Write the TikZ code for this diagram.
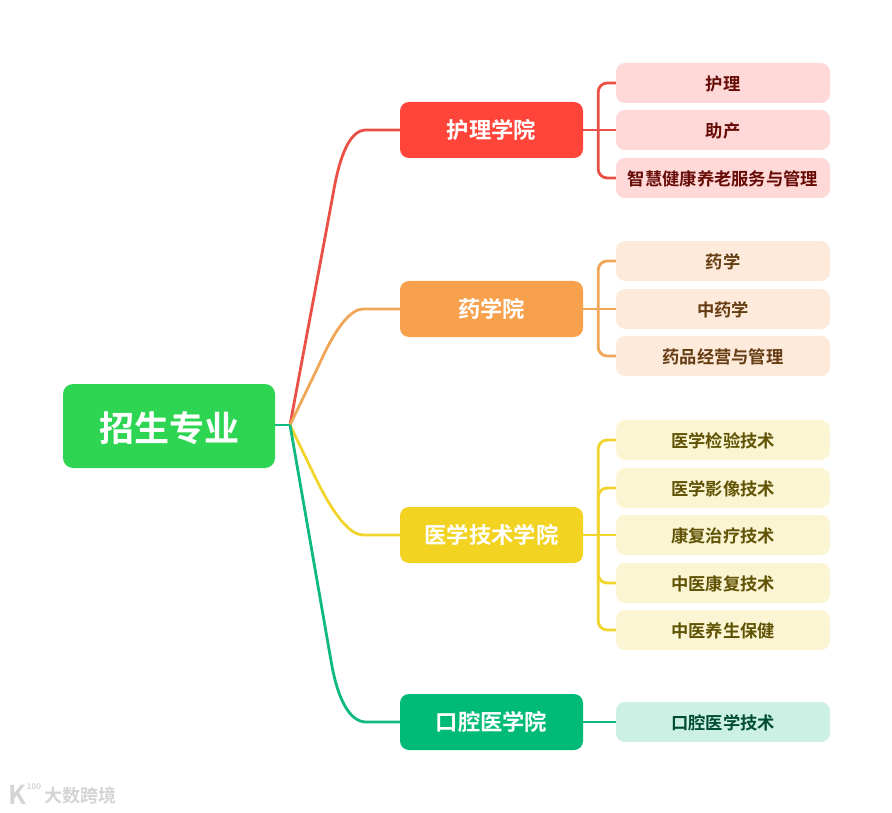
\documentclass[tikz,border=0pt]{standalone}
\usepackage{fontspec}
\usepackage{xcolor}
\usetikzlibrary{calc}
\setmainfont{Noto Sans CJK SC}[BoldFont={* Bold}]
\definecolor{rootcolor}{HTML}{2ED553}
\definecolor{redcolor}{HTML}{FF4539}
\definecolor{orangecolor}{HTML}{F7A14D}
\definecolor{yellowcolor}{HTML}{F2D321}
\definecolor{greencolor}{HTML}{00BB78}
\definecolor{redlink}{HTML}{EA5045}
\definecolor{orangelink}{HTML}{F0A657}
\definecolor{yellowlink}{HTML}{F2D42E}
\definecolor{greenlink}{HTML}{10B981}
\definecolor{redwash}{HTML}{FFD9D7}
\definecolor{orangewash}{HTML}{FDEADB}
\definecolor{yellowwash}{HTML}{FCF5D3}
\definecolor{greenwash}{HTML}{CCF1E4}
\definecolor{redtext}{HTML}{660A05}
\definecolor{orangetext}{HTML}{663D12}
\definecolor{yellowtext}{HTML}{615305}
\definecolor{greentext}{HTML}{004D32}
\definecolor{markcolor}{HTML}{D4D4D4}
\tikzstyle{rootbox} = [
    fill=rootcolor,
    text=white,
    rounded corners=10pt,
    minimum width=212pt,
    minimum height=84pt,
    text height=34pt,
    text depth=3.4pt,
    font=\fontsize{35}{35}\selectfont\bfseries
    ]
\tikzstyle{collegebox} = [
    text=white,
    rounded corners=9pt,
    minimum width=183pt,
    minimum height=56pt,
    font=\fontsize{22.3}{22.3}\selectfont\bfseries
    ]
\tikzstyle{majorbox} = [
    rounded corners=9pt,
    minimum width=214pt,
    minimum height=40pt,
    text height=17.3pt,
    text depth=2pt,
    font=\fontsize{17.3}{17.3}\selectfont\bfseries
    ]
\tikzstyle{link} = [
    line width=2.8pt,
    rounded corners=9pt
    ]
\tikzstyle{markfont} = [
    text=markcolor,
    inner sep=0pt
    ]

\begin{document}
\begin{tikzpicture}[x=1pt,y=-1pt]
\useasboundingbox (0,0) rectangle (892,813);
\node [rootbox] (root) at (169,426) {招生专业};
\coordinate (hub) at (290,425);

\node [collegebox, fill=redcolor] (nursing) at (491.5,130) {护理学院};
\node [collegebox, fill=orangecolor] (pharmacy) at (491.5,309) {药学院};
\node [collegebox, fill=yellowcolor] (medtech) at (491.5,535) {医学技术学院};
\node [collegebox, fill=greencolor] (dental) at (491.5,722) {口腔医学院};

\foreach \name/\ypos/\label in {nurseA/83/护理, nurseB/130/助产, nurseC/178/智慧健康养老服务与管理}
    \node [majorbox, fill=redwash, text=redtext] (\name) at (723,\ypos) {\label};
\foreach \name/\ypos/\label in {pharmA/261/药学, pharmB/309/中药学, pharmC/356/药品经营与管理}
    \node [majorbox, fill=orangewash, text=orangetext] (\name) at (723,\ypos) {\label};
\foreach \name/\ypos/\label in {techA/440/医学检验技术, techB/488/医学影像技术, techC/535/康复治疗技术, techD/583/中医康复技术, techE/630/中医养生保健}
    \node [majorbox, fill=yellowwash, text=yellowtext] (\name) at (723,\ypos) {\label};
\node [majorbox, fill=greenwash, text=greentext] (dentalA) at (723,722) {口腔医学技术};

% trunk curves
\draw [link, redlink] (hub) -- (332,200) .. controls (340,155) and (350,130) .. (375,130) -- (nursing.west);
\draw [link, orangelink] (hub) -- (318,367) .. controls (335,330) and (350,309) .. (372,309) -- (pharmacy.west);
\draw [link, yellowlink] (hub) -- (318,483) .. controls (335,515) and (350,535) .. (372,535) -- (medtech.west);
\draw [link, greenlink] (hub) -- (330,655) .. controls (338,700) and (350,722) .. (375,722) -- (dental.west);
\draw [link, greenlink, rounded corners=0pt] (root.east |- hub) -- (hub);

% brackets
\coordinate (nursefork) at ($(nursing.east)+(15,0)$);
\coordinate (pharmfork) at ($(pharmacy.east)+(15,0)$);
\coordinate (techfork) at ($(medtech.east)+(15,0)$);
\draw [link, redlink] (nursing.east) -- (nurseB.west);
\foreach \kid in {nurseA, nurseC}
    \draw [link, redlink] (nursefork) |- (\kid.west);
\draw [link, orangelink] (pharmacy.east) -- (pharmB.west);
\foreach \kid in {pharmA, pharmC}
    \draw [link, orangelink] (pharmfork) |- (\kid.west);
\draw [link, yellowlink] (medtech.east) -- (techC.west);
\foreach \kid in {techA, techB, techD, techE}
    \draw [link, yellowlink] (techfork) |- (\kid.west);
\draw [link, greenlink] (dental.east) -- (dentalA.west);

% watermark
\node [markfont, font=\fontsize{26}{26}\selectfont\bfseries] (markk) at (17,795) {K};
\node [markfont, font=\fontsize{8}{8}\selectfont\bfseries] (markn) at (34,787) {100};
\node [markfont, font=\fontsize{18}{18}\selectfont\bfseries] (marktext) at (81,796) {大数跨境};
\end{tikzpicture}
\end{document}
